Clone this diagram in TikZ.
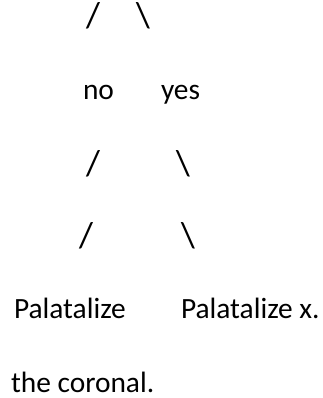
\documentclass[tikz,border=0pt]{standalone}
\usepackage{fontspec}
\setmainfont{Carlito}
\begin{document}
\begin{tikzpicture}[x=1pt,y=-1pt,
  lbl/.style={anchor=base west,inner sep=0pt,outer sep=0pt,font=\fontsize{29.4}{34}\selectfont},
  slash/.style={anchor=base west,inner sep=0pt,outer sep=0pt,font=\fontsize{36}{40}\selectfont}]
\useasboundingbox (0,0) rectangle (323,398);
\node[slash] (s1l) at (86,28) {/};
\node[slash] (s1r) at (136,28) {\textbackslash};
\node[lbl] (no) at (83,100) {no};
\node[lbl] (yes) at (161,100) {yes};
\node[slash] (s2l) at (86,175) {/};
\node[slash] (s2r) at (176,175) {\textbackslash};
\node[slash] (s3l) at (79,247) {/};
\node[slash] (s3r) at (181,247) {\textbackslash};
\node[lbl] (p1) at (14,318) {Palatalize};
\node[lbl] (p2) at (181,318) {Palatalize x.};
\node[lbl] (cor) at (11,392) {the coronal.};
\end{tikzpicture}
\end{document}
